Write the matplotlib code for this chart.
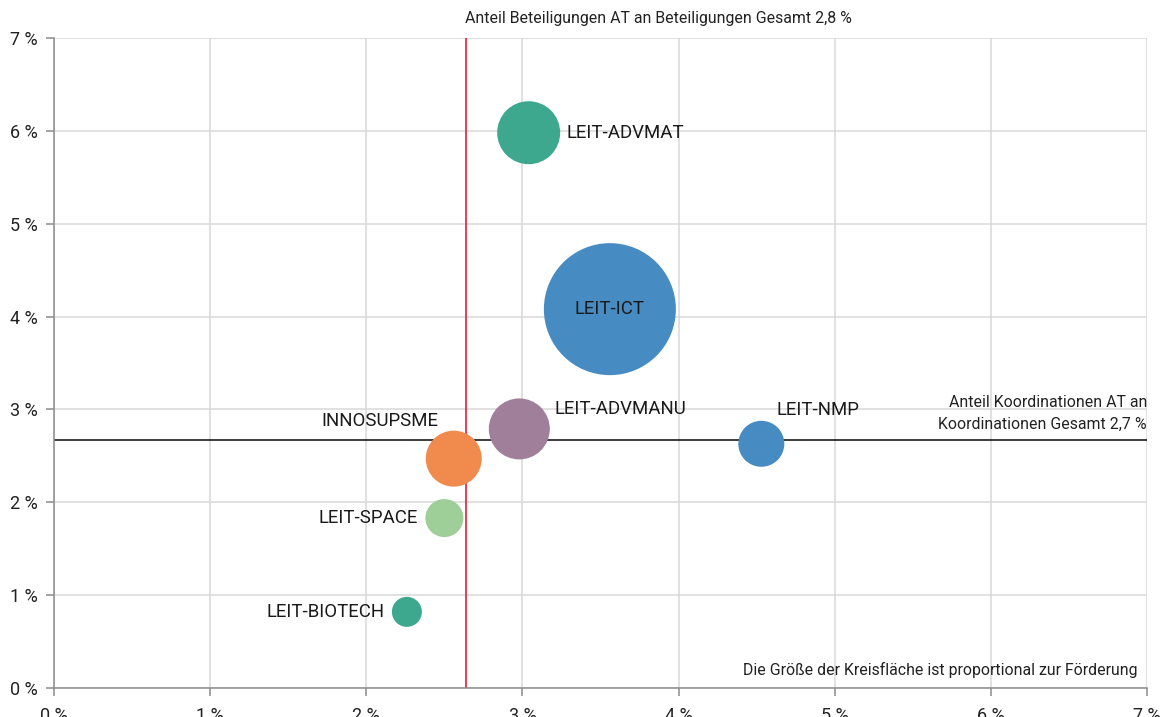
import matplotlib
matplotlib.use("Agg")
import matplotlib.pyplot as plt
from matplotlib.ticker import FuncFormatter, MultipleLocator

# Data (percent values)
names = ["LEIT-ADVMAT", "LEIT-ICT", "LEIT-ADVMANU", "INNOSUPSME", "LEIT-NMP", "LEIT-SPACE", "LEIT-BIOTECH"]
anteil_beteiligungen = [3.04, 3.56, 2.98, 2.56, 4.53, 2.50, 2.26]   # x
anteil_koordinationen = [5.98, 4.08, 2.79, 2.47, 2.63, 1.83, 0.82]  # y
foerderung = [992, 4356, 930, 784, 529, 361, 225]                    # relative funding (bubble area)
colors = ["#3da88d", "#468bc2", "#a07f9a", "#f08b4d", "#468bc2", "#9ecf98", "#3da88d"]
ref_beteiligungen = 2.64
ref_koordinationen = 2.67
ref_label_x = "Anteil Beteiligungen AT an Beteiligungen Gesamt 2,8 %"
ref_label_y = "Anteil Koordinationen AT an\nKoordinationen Gesamt 2,7 %"
note = "Die Größe der Kreisfläche ist proportional zur Förderung"

plt.rcParams['font.family'] = ['Roboto', 'DejaVu Sans']

W, H = 1171, 717
fig = plt.figure(figsize=(W / 100, H / 100), dpi=100)
ax = fig.add_axes([54 / W, 29 / H, (1147 - 54) / W, (688 - 38) / H])
ax.set_xlim(0, 7)
ax.set_ylim(0, 7)

ax.xaxis.set_major_locator(MultipleLocator(1))
ax.yaxis.set_major_locator(MultipleLocator(1))
fmt = FuncFormatter(lambda v, p: f"{int(round(v))} %")
ax.xaxis.set_major_formatter(fmt)
ax.yaxis.set_major_formatter(fmt)
ax.grid(True, color="#d9d9d9", linewidth=1.1)
ax.set_axisbelow(True)
for s in ["top", "right"]:
    ax.spines[s].set_visible(False)
for s in ["left", "bottom"]:
    ax.spines[s].set_color("#8c8c8c")
    ax.spines[s].set_linewidth(1.1)
ax.tick_params(axis="both", colors="#8c8c8c", length=6, width=1.1, labelsize=13,
               labelcolor="#222222")
ax.tick_params(axis="x", pad=8)
ax.tick_params(axis="y", pad=6)

# reference lines
ax.axvline(ref_beteiligungen, color="#e0203c", linewidth=1.2, zorder=2)
ax.axhline(ref_koordinationen, color="#1a1a1a", linewidth=1.2, zorder=2)

# bubbles: foerderung is proportional to area; scale to points^2
scale = (1.44 ** 2)
sizes = [f * scale for f in foerderung]
ax.scatter(anteil_beteiligungen, anteil_koordinationen, s=sizes, c=colors,
           linewidths=0, zorder=3, clip_on=False)

# labels: offsets in points
offsets = {
    "LEIT-ADVMAT": ((27, 0), "left", "center"),
    "LEIT-ICT": ((0, 0), "center", "center"),
    "LEIT-ADVMANU": ((25, 14), "left", "center"),
    "INNOSUPSME": ((-11, 27), "right", "center"),
    "LEIT-NMP": ((11, 24), "left", "center"),
    "LEIT-SPACE": ((-19, 0), "right", "center"),
    "LEIT-BIOTECH": ((-16, 0), "right", "center"),
}
for n, x, y in zip(names, anteil_beteiligungen, anteil_koordinationen):
    (dx, dy), ha, va = offsets[n]
    ax.annotate(n, (x, y), xytext=(dx, dy), textcoords="offset points",
                ha=ha, va=va, fontsize=13.4, color="#1a1a1a", zorder=4)

ax.annotate(ref_label_x, (ref_beteiligungen, 7.0), xytext=(-1, 9), textcoords="offset points",
            ha="left", va="bottom", fontsize=11.4, color="#222222", annotation_clip=False)
ax.text(7.0, ref_koordinationen + 0.09, ref_label_y, ha="right", va="bottom",
        fontsize=11.4, color="#222222", linespacing=1.55)
ax.text(6.94, 0.11, note, ha="right", va="bottom", fontsize=11.4, color="#222222")

fig.savefig("out.png", dpi=100)
